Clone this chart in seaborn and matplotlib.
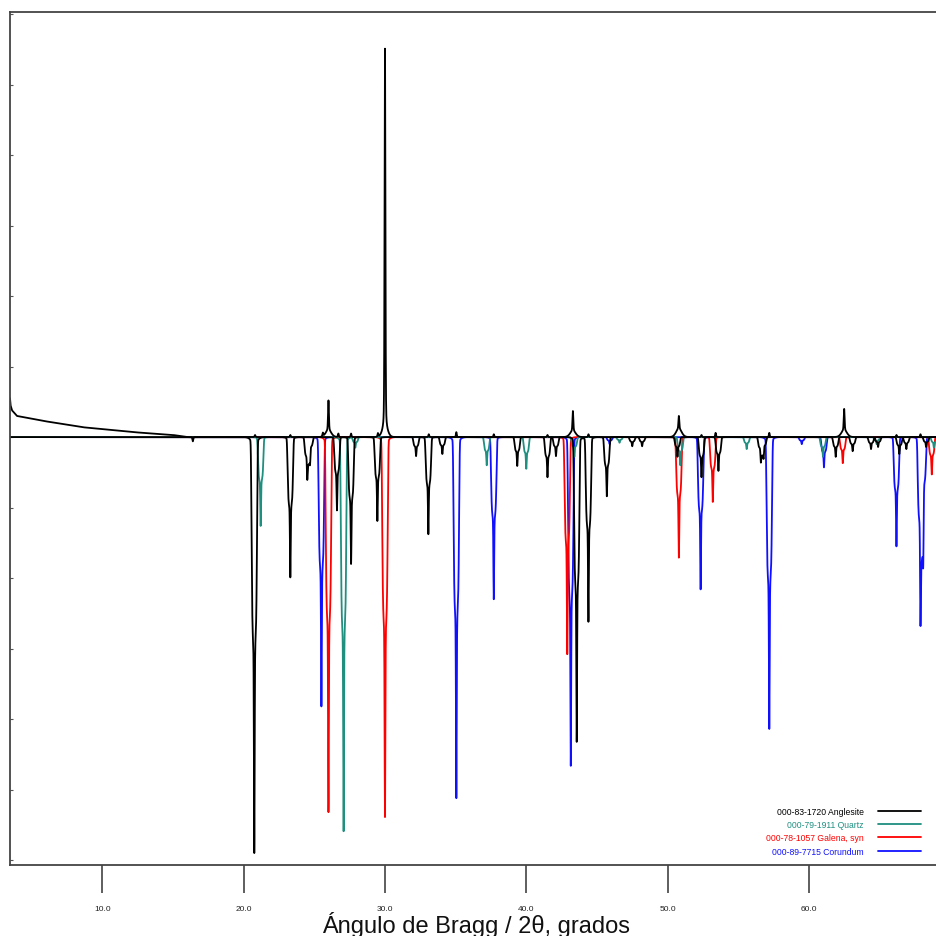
import numpy as np
import pandas as pd
import matplotlib
matplotlib.use("Agg")
import matplotlib.pyplot as plt
import seaborn as sns

# ---------------- data (2theta in degrees, intensity in arbitrary units) -------------
ANGLESITE_POS = [20.75, 23.3, 24.5, 24.7, 26.6, 27.6, 29.46, 32.2, 33.07, 34.06, 39.36,
                 41.5, 42.1, 43.57, 44.4, 45.7, 47.5, 48.2, 50.7, 52.4, 53.6, 56.6,
                 56.8, 61.9, 63.1, 64.4, 64.9, 66.4, 66.9, 68.3]
ANGLESITE_INT = [5.91, 1.99, 0.55, 0.27, 1.04, 1.80, 1.19, 0.27, 1.38, 0.24, 0.41,
                 0.57, 0.27, 4.33, 2.62, 0.84, 0.13, 0.13, 0.28, 0.57, 0.48, 0.31,
                 0.24, 0.28, 0.20, 0.17, 0.14, 0.24, 0.17, 0.14]

QUARTZ_POS = [21.2, 27.07, 27.9, 37.2, 40.0, 43.4, 46.6, 50.9, 55.6, 61.0, 64.8, 68.85]
QUARTZ_INT = [1.26, 5.60, 0.15, 0.40, 0.45, 0.28, 0.08, 0.40, 0.17, 0.28, 0.10, 0.15]

GALENA_POS = [26.0, 30.0, 42.9, 50.8, 53.2, 62.4, 68.7]
GALENA_INT = [5.32, 5.39, 3.08, 1.71, 0.92, 0.37, 0.53]

CORUNDUM_POS = [25.5, 35.05, 37.7, 43.15, 45.9, 52.34, 57.2, 59.5, 61.07, 66.2, 67.9, 68.1]
CORUNDUM_INT = [3.82, 5.13, 2.30, 4.67, 0.10, 2.16, 4.14, 0.10, 0.43, 1.55, 2.40, 1.30]

# measured pattern: narrow peaks and their broad bases, plus background
MEAS_POS = [20.8, 23.3, 25.6, 26.0, 26.7, 27.6, 29.5, 30.0, 33.1, 35.05, 37.7, 41.5,
            43.3, 44.4, 50.8, 52.4, 53.4, 57.2, 62.5, 66.2, 67.9, 16.4]
MEAS_INT = [0.03, 0.03, 0.05, 0.42, 0.05, 0.05, 0.05, 5.38, 0.04, 0.07, 0.04, 0.03,
            0.28, 0.04, 0.18, 0.03, 0.06, 0.06, 0.30, 0.03, 0.04, -0.06]
HUMP_POS = [26.0, 30.0, 43.3, 50.8, 62.5]
HUMP_INT = [0.10, 0.13, 0.09, 0.12, 0.10]
BKG_X = [3.46, 3.5, 3.6, 3.95, 5.8, 8.6, 12.2, 15.0, 16.0, 69.0]
BKG_Y = [0.55, 0.45, 0.38, 0.30, 0.23, 0.14, 0.07, 0.03, 0.0, 0.0]

LEGEND_LABELS = ["000-83-1720 Anglesite", "000-79-1911 Quartz",
                 "000-78-1057 Galena, syn", "000-89-7715 Corundum"]
COLORS = ["#000000", "#1f8f80", "#ff0000", "#1010ff"]
XTICKS = [10, 20, 30, 40, 50, 60]

# ---------------- profile rendering ----------------
X = np.arange(3.46, 69.0, 0.004)


def ref_profile(pos, amp, win=0.8):
    """flat-sided shoulder + sharp spike + small lorentzian skirt"""
    y = np.zeros_like(X)
    for p, a in zip(pos, amp):
        d = X - p
        m = np.abs(d) < win
        dd = d[m]
        shoulder = np.exp(-(np.abs(dd) / 0.21) ** 6)
        spike = np.exp(-0.5 * (dd / 0.025) ** 2)
        skirt = 0.15 ** 2 / (dd ** 2 + 0.15 ** 2)
        taper = (1 - (dd / win) ** 2) ** 2
        y[m] += a * (0.47 * shoulder + 0.49 * spike + 0.04 * skirt) * taper
    return y


def meas_profile(pos, amp, fwhm, eta, win):
    y = np.zeros_like(X)
    hw = fwhm / 2.0
    sig = fwhm / 2.3548
    for p, a in zip(pos, amp):
        d = X - p
        m = np.abs(d) < win
        dd = d[m]
        L = hw ** 2 / (dd ** 2 + hw ** 2)
        G = np.exp(-0.5 * (dd / sig) ** 2)
        taper = (1 - (dd / win) ** 2) ** 2
        y[m] += a * (eta * L + (1 - eta) * G) * taper
    return y


ref_series = [
    (ANGLESITE_POS, ANGLESITE_INT),
    (QUARTZ_POS, QUARTZ_INT),
    (GALENA_POS, GALENA_INT),
    (CORUNDUM_POS, CORUNDUM_INT),
]

meas = (meas_profile(MEAS_POS, MEAS_INT, 0.07, 0.3, 0.5)
        + meas_profile(HUMP_POS, HUMP_INT, 0.5, 0.3, 1.0)
        + np.interp(X, BKG_X, BKG_Y))

# ---------------- figure ----------------
sns.set_style("white")
plt.rcParams["font.family"] = ["Liberation Sans", "DejaVu Sans"]

fig = plt.figure(figsize=(9.36, 9.37), dpi=100)
ax = fig.add_axes([10 / 936, 71 / 937, 1 - 10 / 936, (866 - 13) / 937])

draw_order = [3, 2, 1, 0]
for i in draw_order:
    pos, inten = ref_series[i]
    y = -ref_profile(pos, inten)
    df = pd.DataFrame({"x": X, "y": y})
    sns.lineplot(data=df, x="x", y="y", ax=ax, color=COLORS[i], linewidth=1.3,
                 sort=False, estimator=None, label=LEGEND_LABELS[i])

dfm = pd.DataFrame({"x": X, "y": meas})
sns.lineplot(data=dfm, x="x", y="y", ax=ax, color="black", linewidth=1.3,
             sort=False, estimator=None)

ax.set_xlim(3.46, 69.0)
ax.set_ylim(-6.07, 6.03)
ax.set_xlabel("")
ax.set_ylabel("")

ax.set_xticks(XTICKS)
ax.set_xticklabels([f"{v:.1f}" for v in XTICKS], fontsize=6)
ax.tick_params(axis="x", bottom=True, direction="out", length=20, width=1.1,
               color="#333333", pad=9, labelcolor="#222222")
ax.set_yticks(np.arange(-6, 7, 1))
ax.set_yticklabels([])
ax.tick_params(axis="y", left=True, direction="in", length=2, width=0.8, color="#555555")

for side in ["left", "top", "bottom"]:
    ax.spines[side].set_color("#444444")
    ax.spines[side].set_linewidth(1.3)
ax.spines["right"].set_visible(False)

# legend
lines = {ln.get_label(): ln for ln in ax.get_lines()}
hl = [lines[l] for l in LEGEND_LABELS]
leg = ax.legend(hl, LEGEND_LABELS, loc="lower right", bbox_to_anchor=(925 / 936, 76 / 937),
                bbox_transform=fig.transFigure, frameon=False, fontsize=6.2,
                markerfirst=False, handlelength=5.0, handletextpad=1.6,
                labelspacing=0.5, borderpad=0, labelcolor="linecolor")

fig.text(476 / 936, (937 - 925) / 937, "Ángulo de Bragg / 2θ, grados",
         ha="center", va="center", fontsize=17, color="#111111")

fig.savefig("out.png", dpi=100)
